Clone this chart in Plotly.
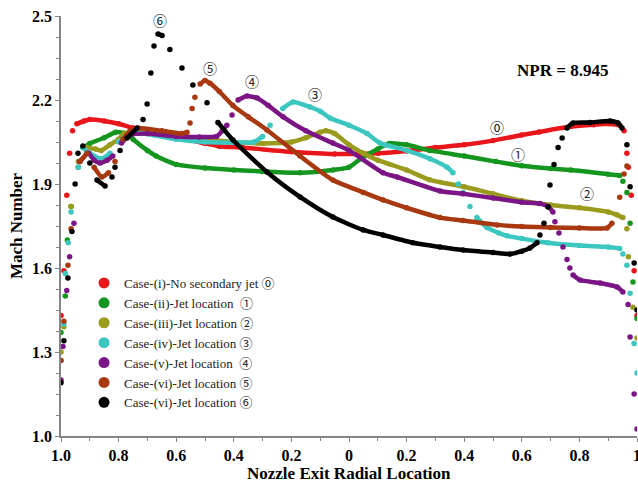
import plotly.graph_objects as go

# ---------------- data ----------------
x_red = [-1.0, -0.99, -0.98, -0.97, -0.96, -0.945, -0.92, -0.9, -0.85, -0.8, -0.75, -0.7, -0.6, -0.5,
         -0.45, -0.37, -0.2, -0.05, 0.1, 0.2, 0.3, 0.4, 0.5, 0.6, 0.66, 0.77, 0.85, 0.9, 0.94, 0.955,
         0.965, 0.97, 0.98, 0.99, 1.0]
y_red = [1.43, 1.59, 1.86, 2.01, 2.09, 2.115, 2.125, 2.13, 2.125, 2.115, 2.10, 2.09, 2.07, 2.045,
         2.035, 2.03, 2.015, 2.007, 2.01, 2.018, 2.03, 2.04, 2.055, 2.075, 2.086, 2.105, 2.112, 2.115, 2.11, 2.09,
         2.01, 1.96, 1.86, 1.59, 1.43]

x_green = [-1.0, -0.985, -0.978, -0.965, -0.94, -0.92, -0.9, -0.85, -0.81, -0.77, -0.75, -0.7, -0.67,
           -0.6, -0.5, -0.4, -0.3, -0.17, -0.056, 0.0, 0.04, 0.1, 0.14, 0.2, 0.28, 0.4, 0.51, 0.6, 0.7,
           0.77, 0.9, 0.94, 0.951, 0.965, 0.976, 0.986, 1.0]
y_green = [1.37, 1.50, 1.70, 1.82, 1.96, 2.03, 2.045, 2.065, 2.085, 2.08, 2.06, 2.02, 2.0,
           1.97, 1.957, 1.95, 1.945, 1.94, 1.95, 1.96, 1.99, 2.025, 2.045, 2.04, 2.02, 2.0, 1.98, 1.965, 1.955,
           1.95, 1.935, 1.93, 1.91, 1.87, 1.76, 1.55, 1.42]

x_olive = [-1.0, -0.99, -0.965, -0.94, -0.91, -0.88, -0.86, -0.83, -0.8, -0.78, -0.72, -0.6, -0.5,
           -0.4, -0.3, -0.2, -0.15, -0.1, -0.08, -0.05, 0.0, 0.05, 0.1, 0.2, 0.28, 0.4, 0.5, 0.6, 0.7,
           0.8, 0.9, 0.93, 0.951, 0.965, 0.97, 0.986, 1.0]
y_olive = [1.30, 1.39, 1.82, 1.98, 2.03, 2.025, 2.02, 2.04, 2.06, 2.08, 2.085, 2.075, 2.06,
           2.05, 2.045, 2.05, 2.065, 2.085, 2.09, 2.08, 2.04, 2.01, 1.985, 1.95, 1.915, 1.89, 1.865, 1.84, 1.825,
           1.815, 1.80, 1.79, 1.78, 1.74, 1.64, 1.46, 1.35]

x_cyan = [-1.0, -0.99, -0.985, -0.975, -0.965, -0.94, -0.925, -0.9, -0.86, -0.83, -0.8, -0.77, -0.72,
          -0.6, -0.5, -0.4, -0.33, -0.3, -0.274, -0.23, -0.194, -0.135, -0.1, -0.066, 0.0, 0.063, 0.108,
          0.2, 0.281, 0.34, 0.361, 0.38, 0.396, 0.42, 0.444, 0.479, 0.52, 0.549, 0.6, 0.69, 0.8, 0.9, 0.94,
          0.951, 0.965, 0.976, 0.99, 1.0]
y_cyan = [1.27, 1.40, 1.58, 1.69, 1.80, 1.96, 2.03, 2.01, 1.99, 2.01, 2.05, 2.075, 2.08,
          2.06, 2.05, 2.048, 2.05, 2.07, 2.11, 2.17, 2.193, 2.175, 2.16, 2.136, 2.11, 2.08, 2.046,
          2.02, 1.99, 1.96, 1.94, 1.90, 1.87, 1.82, 1.78, 1.745, 1.725, 1.715, 1.705, 1.69, 1.68, 1.675, 1.67,
          1.65, 1.61, 1.51, 1.33, 1.225]

x_purple = [-1.0, -0.993, -0.98, -0.97, -0.955, -0.935, -0.905, -0.885, -0.865, -0.84, -0.82, -0.79,
            -0.76, -0.7, -0.6, -0.52, -0.46, -0.44, -0.424, -0.406, -0.385, -0.354, -0.319, -0.28, -0.229,
            -0.15, -0.056, 0.0, 0.118, 0.167, 0.316, 0.396, 0.5, 0.6, 0.663, 0.691, 0.708, 0.715, 0.729,
            0.743, 0.757, 0.767, 0.778, 0.802, 0.872, 0.931, 0.951, 0.969, 0.976, 0.99, 1.0]
y_purple = [1.20, 1.32, 1.52, 1.64, 1.76, 1.98, 2.01, 1.985, 1.975, 1.985, 2.0, 2.046,
            2.075, 2.08, 2.07, 2.068, 2.07, 2.09, 2.11, 2.146, 2.20, 2.214, 2.207, 2.18, 2.14,
            2.09, 2.046, 2.02, 1.94, 1.925, 1.875, 1.865, 1.85, 1.835, 1.83, 1.82, 1.80, 1.765, 1.725,
            1.675, 1.63, 1.60, 1.575, 1.557, 1.546, 1.532, 1.514, 1.47, 1.354, 1.15, 1.025]

x_brown = [-1.0, -0.99, -0.976, -0.965, -0.934, -0.91, -0.885, -0.858, -0.835, -0.8125, -0.785, -0.76,
           -0.733, -0.65, -0.58, -0.5625, -0.552, -0.545, -0.535, -0.517, -0.5, -0.483, -0.45, -0.403,
           -0.35, -0.285, -0.17, -0.056, 0.05, 0.118, 0.2, 0.316, 0.396, 0.514, 0.6, 0.7, 0.8, 0.896,
           0.913, 0.94, 0.955, 0.965]
y_brown = [1.27, 1.41, 1.61, 1.74, 1.98, 2.01, 1.96, 1.925, 1.94, 1.98, 2.06, 2.09,
           2.10, 2.09, 2.08, 2.085, 2.118, 2.17, 2.21, 2.257, 2.27, 2.26, 2.23, 2.18,
           2.14, 2.093, 2.0, 1.914, 1.87, 1.843, 1.815, 1.78, 1.77, 1.754, 1.748, 1.745, 1.743, 1.743,
           1.76, 1.853, 1.936, 1.964]

x_black = [-1.0, -0.99, -0.976, -0.962, -0.951, -0.941, -0.924, -0.9, -0.875, -0.847, -0.823, -0.8125,
           -0.795, -0.771, -0.736, -0.715, -0.701, -0.688, -0.677, -0.663, -0.649, -0.622, -0.58, -0.542,
           -0.493, -0.455, -0.403, -0.285, -0.17, -0.056, 0.049, 0.118, 0.222, 0.316, 0.396, 0.5, 0.559,
           0.6, 0.628, 0.653, 0.663, 0.677, 0.691, 0.698, 0.712, 0.726, 0.74, 0.757, 0.778, 0.837, 0.906,
           0.934, 0.948, 0.965, 0.976, 0.99, 1.0]
y_black = [1.19, 1.34, 1.564, 1.73, 1.90, 2.01, 2.036, 1.975, 1.914, 1.893, 1.925, 1.96,
           2.02, 2.064, 2.10, 2.13, 2.186, 2.296, 2.393, 2.436, 2.43, 2.38, 2.314, 2.254,
           2.19, 2.12, 2.057, 1.943, 1.854, 1.782, 1.736, 1.718, 1.69, 1.675, 1.664, 1.655, 1.65,
           1.66, 1.671, 1.69, 1.718, 1.76, 1.818, 1.896, 1.97, 2.03, 2.064, 2.10, 2.118, 2.12, 2.125,
           2.118, 2.10, 2.04, 1.89, 1.618, 1.45]

series_names = ["Case-(i)-No secondary jet ⓪", "Case-(ii)-Jet location  ①", "Case-(iii)-Jet location ②",
                "Case-(iv)-Jet location ③", "Case-(v)-Jet location  ④", "Case-(vi)-Jet location ⑤",
                "Case-(vi)-Jet location ⑥"]
series_colors = ["#e8161b", "#14961e", "#9a9a1c", "#3cc6c0", "#7b1585", "#a8380f", "#000000"]

x_tickvals = [-1.0, -0.8, -0.6, -0.4, -0.2, 0.0, 0.2, 0.4, 0.6, 0.8, 1.0]
x_ticktext = ["1.0", "0.8", "0.6", "0.4", "0.2", "0", "0.2", "0.4", "0.6", "0.8", "1"]
y_tickvals = [1.0, 1.3, 1.6, 1.9, 2.2, 2.5]

labels = ["⑥", "⑤", "④", "③", "⓪", "①", "②"]
label_x = [-0.656, -0.483, -0.337, -0.118, 0.514, 0.587, 0.826]
label_y = [2.486, 2.314, 2.268, 2.221, 2.104, 2.007, 1.868]

# ---------------- figure ----------------
xs = [x_red, x_green, x_olive, x_cyan, x_purple, x_brown, x_black]
ys = [y_red, y_green, y_olive, y_cyan, y_purple, y_brown, y_black]

SERIF = "Liberation Serif, Times New Roman, Noto Sans CJK SC, serif"
fig = go.Figure()


def broken_line(x, y, max_slope=1.3):
    lx, ly = [x[0]], [y[0]]
    for i in range(1, len(x)):
        dx = x[i] - x[i - 1]
        dy = y[i] - y[i - 1]
        if dx == 0 or abs(dy / dx) > max_slope:
            lx.append(None)
            ly.append(None)
        lx.append(x[i])
        ly.append(y[i])
    return lx, ly


for x, y, name, col in zip(xs, ys, series_names, series_colors):
    lx, ly = broken_line(x, y)
    fig.add_trace(go.Scatter(x=lx, y=ly, mode="lines", line=dict(color=col, width=4.5, shape="spline",
                                                                   smoothing=0.6),
                             showlegend=False, hoverinfo="skip", connectgaps=False))
    fig.add_trace(go.Scatter(x=x, y=y, mode="markers", marker=dict(color=col, size=5.5),
                             showlegend=False))
    fig.add_trace(go.Scatter(x=[None], y=[None], mode="markers", name=name,
                             marker=dict(color=col, size=11)))

annotations = []
for t, ax, ay in zip(labels, label_x, label_y):
    annotations.append(dict(x=ax, y=ay, xref="x", yref="y", text=t, showarrow=False,
                            font=dict(family="Noto Sans CJK SC", size=14, color="#222")))
annotations.append(dict(x=0.743, y=2.307, xref="x", yref="y", text="NPR = 8.945", showarrow=False,
                        font=dict(family=SERIF, size=17, color="black", weight="bold")))
annotations.append(dict(x=0.5, y=-0.0895, xref="paper", yref="paper", text="Nozzle Exit Radial Location",
                        showarrow=False, xanchor="center", yanchor="middle",
                        font=dict(family=SERIF, size=17, color="black", weight="bold")))
annotations.append(dict(x=-0.078, y=0.5, xref="paper", yref="paper", text="Mach Number", textangle=-90,
                        showarrow=False, xanchor="center", yanchor="middle",
                        font=dict(family=SERIF, size=17, color="black", weight="bold")))

axis_common = dict(showgrid=False, zeroline=False, showline=True, linecolor="#858585", linewidth=1.5,
                   ticks="outside", ticklen=4, tickcolor="#858585", tickwidth=1.2, automargin=False,
                   ticklabeloverflow="allow",
                   tickfont=dict(family=SERIF, size=16, color="black", weight="bold"))

fig.update_layout(
    width=638, height=486,
    margin=dict(l=61, r=1, t=16, b=50),
    paper_bgcolor="white", plot_bgcolor="white",
    xaxis=dict(range=[-1.0, 1.0], tickvals=x_tickvals, ticktext=x_ticktext,
               minor=dict(ticks="outside", tick0=-1.0, dtick=0.1, ticklen=3, tickcolor="#858585"),
               **axis_common),
    yaxis=dict(range=[1.0, 2.5], tickvals=y_tickvals, tickformat=".1f",
               minor=dict(ticks="outside", tick0=1.0, dtick=0.075, ticklen=3, tickcolor="#858585"),
               **axis_common),
    legend=dict(x=0.040, y=0.400, xanchor="left", yanchor="top", bgcolor="rgba(0,0,0,0)",
                font=dict(family=SERIF, size=13, color="#222"), itemclick=False),
    annotations=annotations,
    showlegend=True,
)

# remove the default page margin and scrollbars so the figure sits at the window's top-left corner
page_css = ("document.body.style.margin='0';"
            "document.documentElement.style.overflow='hidden';"
            "document.body.style.overflow='hidden';")
fig.write_html("out.html", post_script=page_css, config={"displayModeBar": False})
